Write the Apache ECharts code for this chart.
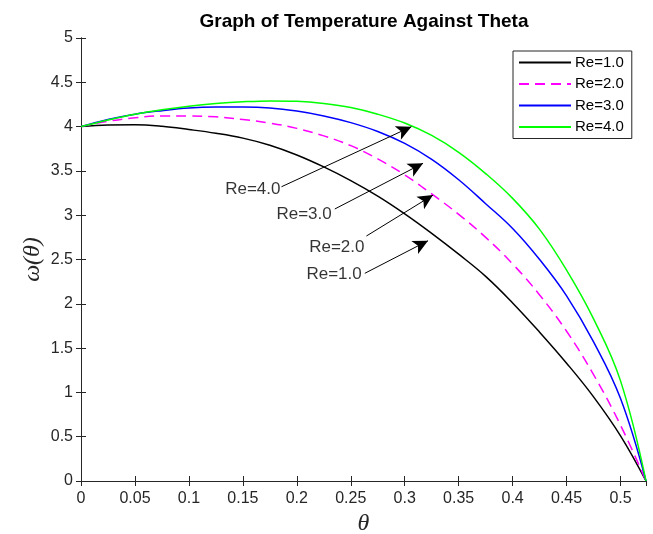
<!DOCTYPE html>
<html>
<head>
<meta charset="utf-8">
<script src="https://cdn.jsdelivr.net/npm/echarts@6/dist/echarts.min.js"></script>
<style>html,body{margin:0;padding:0;background:#fff}#c{width:653px;height:534px}</style>
</head>
<body>
<div id="c"></div>
<script>
// ---- data ----
const theta = [0,0.025,0.05,0.075,0.1,0.125,0.15,0.175,0.2,0.225,0.25,0.275,0.3,0.325,0.35,0.375,0.4,0.425,0.45,0.475,0.5,0.5236];
const re1 = [4.00,4.018,4.02,4.003,3.967,3.925,3.87,3.79,3.68,3.545,3.39,3.215,3.015,2.795,2.56,2.31,2.01,1.68,1.33,0.95,0.51,0];
const re2 = [4.00,4.06,4.10,4.12,4.12,4.11,4.08,4.04,3.98,3.895,3.785,3.635,3.455,3.24,3.01,2.75,2.45,2.10,1.69,1.20,0.63,0];
const re3 = [4.00,4.08,4.14,4.18,4.21,4.22,4.22,4.21,4.175,4.12,4.045,3.945,3.81,3.63,3.40,3.13,2.85,2.50,2.09,1.57,0.93,0];
const re4 = [4.00,4.075,4.14,4.19,4.23,4.26,4.28,4.29,4.285,4.26,4.215,4.14,4.04,3.90,3.71,3.47,3.19,2.84,2.38,1.83,1.13,0];
const seriesNames = ['Re=1.0','Re=2.0','Re=3.0','Re=4.0'];
// annotations (data coordinates)
const annotText   = ['Re=4.0','Re=3.0','Re=2.0','Re=1.0'];
const annotTextX  = [0.1858,0.2333,0.2636,0.2611];
const annotTextY  = [3.296,3.014,2.638,2.336];
const arrowFromX  = [0.1858,0.2352,0.2645,0.2630];
const arrowFromY  = [3.321,3.070,2.765,2.344];
const arrowToX    = [0.3062,0.3170,0.3262,0.3216];
const arrowToY    = [3.999,3.586,3.227,2.712];
const xMax = Math.PI/6;

const axisCol = '#262626';
const font = '"Liberation Sans", Arial, Helvetica, sans-serif';
const serif = '"Liberation Serif", "DejaVu Serif", serif';
const zip = (xs, ys) => xs.map((x,i)=>[x, ys[i]]);

const chart = echarts.init(document.getElementById('c'), null, {renderer:'canvas'});
const commonX = {type:'value', min:0, max:xMax, interval:0.05, splitLine:{show:false},
  axisLine:{show:true, lineStyle:{color:axisCol, width:1}},
  axisTick:{show:true, inside:true, length:5, lineStyle:{color:axisCol}}};
const commonY = {type:'value', min:0, max:5, interval:0.5, splitLine:{show:false},
  axisLine:{show:true, lineStyle:{color:axisCol, width:1}},
  axisTick:{show:true, inside:true, length:5, lineStyle:{color:axisCol}}};

const arrowData = arrowFromX.map((x,i)=>[{coord:[x, arrowFromY[i]]},{coord:[arrowToX[i], arrowToY[i]]}]);

const lineSeries = (name, vals, color, type) => ({
  name, type:'line', data:zip(theta, vals), showSymbol:false, symbol:'none',
  smooth:0.4,
  lineStyle:{color, width:1.5, type:type||'solid'}, itemStyle:{color}, z:3
});

const s1 = lineSeries(seriesNames[0], re1, '#000000');
s1.markLine = {silent:true, symbol:['none','arrow'], symbolSize:[11,15], label:{show:false},
  lineStyle:{color:'#000', width:1, type:'solid'}, itemStyle:{color:'#000'},
  emphasis:{disabled:true}, data:arrowData};

chart.setOption({
  animation:false,
  backgroundColor:'#fff',
  title:{text:'Graph of Temperature Against Theta', left:359, top:7, textAlign:'center',
    textStyle:{fontFamily:font, fontSize:19, fontWeight:'bold', color:'#000'}},
  grid:{left:81, right:7, top:38, bottom:53, containLabel:false, outerBoundsMode:'none'},
  legend:{data:seriesNames, orient:'vertical', left:513, top:51,
    borderColor:axisCol, borderWidth:1, padding:[4,8,4,5], backgroundColor:'#fff',
    itemWidth:52, itemHeight:15, itemGap:6.5,
    itemStyle:{opacity:0, borderWidth:0, color:'rgba(0,0,0,0)'},
    textStyle:{fontFamily:font, fontSize:15, color:'#000', padding:[0,0,0,-1]}},
  xAxis:[
    Object.assign({}, commonX, {position:'bottom',
      axisLabel:{show:true, showMaxLabel:false, margin:10, fontFamily:font, fontSize:16, color:axisCol},
      name:'θ', nameLocation:'middle', nameGap:28,
      nameTextStyle:{fontFamily:serif, fontStyle:'italic', fontSize:24, color:axisCol}}),
    Object.assign({}, commonX, {position:'top', axisLabel:{show:false}})
  ],
  yAxis:[
    Object.assign({}, commonY, {position:'left',
      axisLabel:{show:true, margin:8, fontFamily:font, fontSize:16, color:axisCol},
      name:'ω(θ)', nameLocation:'middle', nameGap:36, nameRotate:90, nameMoveOverlap:false,
      nameTextStyle:{fontFamily:serif, fontStyle:'italic', fontSize:24, color:axisCol}}),
    Object.assign({}, commonY, {position:'right', axisLabel:{show:false}})
  ],
  series:[
    s1,
    lineSeries(seriesNames[1], re2, '#ff00ff', [10,6]),
    lineSeries(seriesNames[2], re3, '#0000ff'),
    lineSeries(seriesNames[3], re4, '#00ff00'),
    {name:'annot', type:'scatter', symbolSize:0, silent:true, z:5,
      data:annotText.map((t,i)=>({name:t, value:[annotTextX[i], annotTextY[i]]})),
      label:{show:true, position:'left', distance:1, formatter:p=>p.name,
        fontFamily:font, fontSize:17, color:'#000'}}
  ]
});
</script>
</body>
</html>
